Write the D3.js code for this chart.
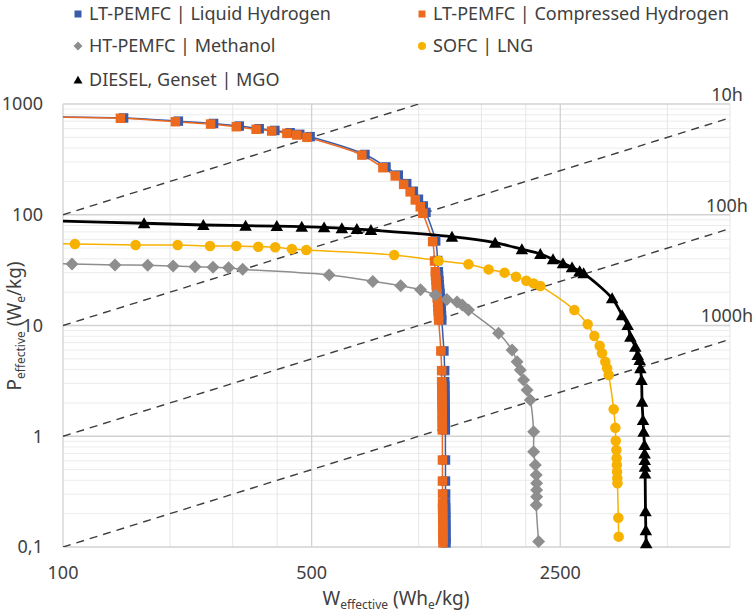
<!DOCTYPE html>
<html><head><meta charset="utf-8">
<script src="https://cdn.jsdelivr.net/npm/d3@7"></script>
<style>
body{margin:0;background:#fff;}
svg{display:block;font-family:"Noto Sans",sans-serif;}
</style></head>
<body><svg id="chart" width="755" height="614"></svg>
<script>
// ---------- DATA ----------
const seriesNames = ["LT-PEMFC | Liquid Hydrogen","LT-PEMFC | Compressed Hydrogen","HT-PEMFC | Methanol","SOFC | LNG","DIESEL, Genset | MGO"];

const lh2W = [96,148,211,265,313,356,394,435,463,495,706,809,876,925,965,998,1030,1048,1116,1130,
  1135,1137,1140,1142,1145,1148,1150,1153,1155,1157,1159,1161,1177,1183,
  1183,1184,1184,1185,1185,1186,1186,1187,1187,1187,1188,1188,1189,1189,1190,
  1190,1190,1191,1191,1191,1192,1192,1192,1193,1193];
const lh2P = [765,748,700,667,632,598,577,550,532,507,350,270,228,191,163,138,120,105,58,38.6,
  30.6,28,25.5,23.3,21.3,19.5,17.8,16.2,14.8,13.5,12.3,11.2,5.89,3.91,
  3.11,2.85,2.6,2.37,2.16,1.97,1.8,1.64,1.5,1.37,1.25,1.14,0.61,0.394,0.301,
  0.248,0.226,0.206,0.188,0.172,0.157,0.143,0.131,0.119,0.109];

const ch2W = [95,145,207,260,307,349,386,426,454,485,692,793,859,907,946,978,1010,1027,1094,1108,
  1113,1115,1118,1120,1122,1125,1127,1130,1132,1134,1136,1138,1154,1160,
  1160,1161,1161,1162,1162,1163,1163,1164,1164,1164,1165,1165,1166,1166,1167,
  1167,1167,1168,1168,1168,1169,1169,1169,1170,1170];
const ch2P = [760,743,692,659,624,591,570,543,525,500,346,266,224,188,161,136,118,103,57.2,38.2,
  30.6,28,25.5,23.3,21.3,19.5,17.8,16.2,14.8,13.5,12.3,11.2,5.89,3.91,
  3.11,2.85,2.6,2.37,2.16,1.97,1.8,1.64,1.5,1.37,1.25,1.14,0.61,0.394,0.301,
  0.248,0.226,0.206,0.188,0.172,0.157,0.143,0.131,0.119,0.109];

const meohW = [88,106,140,173,204,235,264,292,320,560,743,890,1012,1113,1200,1281,1326,1380,1677,1830,1890,1930,1971,2016,2059,2104,2104,2127,2140,2145,2145,2145,2140,2173];
const meohP = [36.6,35.9,35.2,35.0,34.4,34.0,33.5,33.2,32.2,28.6,25.0,22.8,21.0,18.9,17.2,16.3,15.3,13.8,8.5,6.0,4.7,3.96,3.22,2.62,2.12,1.10,0.725,0.55,0.447,0.376,0.327,0.285,0.239,0.112];

const lngW = [88,108,160,210,259,307,354,395,440,483,853,1137,1380,1572,1743,1877,2007,2104,2197,2738,2985,3117,3226,3276,3346,3385,3420,3532,3570,3580,3595,3600,3605,3610,3615,3620,3640,3648];
const lngP = [54.8,54.5,53.3,53.3,52.2,52.2,51.5,50.9,49.1,48.1,43.3,38.5,35.7,32.1,30.0,27.6,25.4,24.0,22.7,13.8,10.25,8.04,6.57,5.61,4.71,4.11,3.57,1.75,1.195,0.912,0.751,0.632,0.550,0.479,0.417,0.376,0.184,0.124];

const mgoW = [88,169,248,326,399,469,542,608,670,734,1240,1640,1950,2197,2385,2544,2698,2834,2908,3497,3730,3867,3936,4064,4127,4180,4200,4230,4245,4271,4288,4311,4315,4320,4325,4330,4340,4350,4360];
const mgoP = [88.5,83.8,80.8,79.6,79.1,78,77,75.5,74.3,72.8,63.4,55.9,48.8,44.2,39.6,36.4,33.5,31.0,29.6,17.6,12.4,10.1,7.93,6.44,5.41,4.88,4.11,3.22,2.05,1.40,1.10,0.834,0.70,0.61,0.53,0.46,0.21,0.142,0.108];

const hourLines = [1,10,100,1000];
const hourLabels = ["10h","100h","1000h"];
const xTicks = [100,500,2500];
const xTickLabels = ["100","500","2500"];
const yTicks = [0.1,1,10,100,1000];
const yTickLabels = ["0,1","1","10","100","1000"];

// ---------- STYLE ----------
const colors = ["#3A5BA9","#EC6A1E","#8E8E8E","#F7B100","#000000"];
const shapes = ["square","square","diamond","circle","triangle"];

const svg = d3.select("#chart");
const L = 63, R = 730, T = 104, B = 547;
const x = d3.scaleLog().domain([100,7500]).range([L,R]);
const y = d3.scaleLog().domain([0.1,1000]).range([B,T]);

svg.append("defs").append("clipPath").attr("id","clip")
  .append("rect").attr("x",L).attr("y",T).attr("width",R-L).attr("height",B-T);

// gridlines
const g = svg.append("g");
const yMinor = [];
[0.1,1,10,100].forEach(d=>{for(let k=2;k<=9;k++) yMinor.push(d*k);});
g.selectAll(".ymin").data(yMinor).join("line")
  .attr("x1",L).attr("x2",R).attr("y1",d=>y(d)).attr("y2",d=>y(d))
  .attr("stroke","#ECECEC").attr("stroke-width",1);
const xMinor = [200,300,400,1000,1500,2000,5000,7500];
g.selectAll(".xmin").data(xMinor).join("line")
  .attr("y1",T).attr("y2",B).attr("x1",d=>x(d)).attr("x2",d=>x(d))
  .attr("stroke","#E6E6E6").attr("stroke-width",1);
g.selectAll(".ymaj").data(yTicks).join("line")
  .attr("x1",L).attr("x2",R).attr("y1",d=>y(d)).attr("y2",d=>y(d))
  .attr("stroke","#D2D2D2").attr("stroke-width",1.3);
g.selectAll(".xmaj").data(xTicks).join("line")
  .attr("y1",T).attr("y2",B).attr("x1",d=>x(d)).attr("x2",d=>x(d))
  .attr("stroke","#D2D2D2").attr("stroke-width",1.3);

// tick labels
svg.append("g").selectAll("text").data(yTicks).join("text")
  .attr("x",43).attr("y",d=>y(d)).attr("dy","0.35em").attr("text-anchor","end")
  .attr("font-size",18).attr("fill","#404040").text((d,i)=>yTickLabels[i]);
svg.append("g").selectAll("text").data(xTicks).join("text")
  .attr("x",d=>x(d)).attr("y",579).attr("text-anchor","middle")
  .attr("font-size",18).attr("fill","#404040").text((d,i)=>xTickLabels[i]);

// hour lines
const plot = svg.append("g").attr("clip-path","url(#clip)");
hourLines.forEach(h=>{
  const w0 = 100, w1 = Math.min(7500, 1000*h);
  plot.append("line")
    .attr("x1",x(w0)).attr("y1",y(w0/h)).attr("x2",x(w1)).attr("y2",y(w1/h))
    .attr("stroke","#3C3C3C").attr("stroke-width",1.4).attr("stroke-dasharray","8,6");
});
svg.append("g").selectAll("text").data(hourLines.slice(1)).join("text")
  .attr("x",727).attr("y",h=>y(7500/h)-17).attr("text-anchor","middle")
  .attr("font-size",18).attr("fill","#404040").text((h,i)=>hourLabels[i]);

// series
const series = [[lh2W,lh2P],[ch2W,ch2P],[meohW,meohP],[lngW,lngP],[mgoW,mgoP]];
const lineW = [1.5,1.5,1.5,1.5,2.8];
const line = d3.line().x(d=>x(d[0])).y(d=>y(d[1])).curve(d3.curveCatmullRom.alpha(0.5));
function sym(shape, size){
  if(shape==="square") return d3.symbol(d3.symbolSquare, size*size)();
  if(shape==="circle") return d3.symbol(d3.symbolCircle, Math.PI*size*size/4)();
  if(shape==="diamond"){const s=size/2; return `M0,${-s}L${s},0L0,${s}L${-s},0Z`;}
  if(shape==="triangle"){const s=size/2; return `M0,${-s*0.95}L${s},${s*0.8}L${-s},${s*0.8}Z`;}
}
const mSize = [9.5,9.5,13,10.5,12.5];
series.forEach((s,i)=>{
  const pts = s[0].map((w,j)=>[w,s[1][j]]);
  plot.append("path").datum(pts).attr("d",line).attr("fill","none")
    .attr("stroke",colors[i]).attr("stroke-width",lineW[i]);
  svg.append("g").selectAll("path").data(pts.filter(p=>p[0]>=100)).join("path")
    .attr("transform",p=>`translate(${x(p[0])},${y(p[1])})`)
    .attr("d",sym(shapes[i],mSize[i])).attr("fill",colors[i]);
});

// legend
const legPos = [[78,14],[422,14],[78,46],[422,46],[78,80]];
seriesNames.forEach((n,i)=>{
  const [lx,ly] = legPos[i];
  svg.append("path").attr("transform",`translate(${lx},${ly})`)
    .attr("d",sym(shapes[i], shapes[i]==="square"?7:(shapes[i]==="circle"?8:9))).attr("fill",colors[i]);
  svg.append("text").attr("x",lx+11).attr("y",ly).attr("dy","0.35em")
    .attr("font-size",18).attr("fill","#404040").text(n);
});

// axis titles
const xt = svg.append("text").attr("x",396).attr("y",605).attr("text-anchor","middle")
  .attr("font-size",19).attr("fill","#404040");
xt.append("tspan").text("W");
xt.append("tspan").attr("font-size",12).attr("dy",4).text("effective");
xt.append("tspan").attr("dy",-4).text(" (Wh");
xt.append("tspan").attr("font-size",12).attr("dy",4).text("e");
xt.append("tspan").attr("dy",-4).text("/kg)");

const yt = svg.append("text").attr("transform","translate(21,326) rotate(-90)").attr("text-anchor","middle")
  .attr("font-size",19).attr("fill","#404040");
yt.append("tspan").text("P");
yt.append("tspan").attr("font-size",12).attr("dy",4).text("effective");
yt.append("tspan").attr("dy",-4).text(" (W");
yt.append("tspan").attr("font-size",12).attr("dy",4).text("e");
yt.append("tspan").attr("dy",-4).text("/kg)");
</script></body></html>
